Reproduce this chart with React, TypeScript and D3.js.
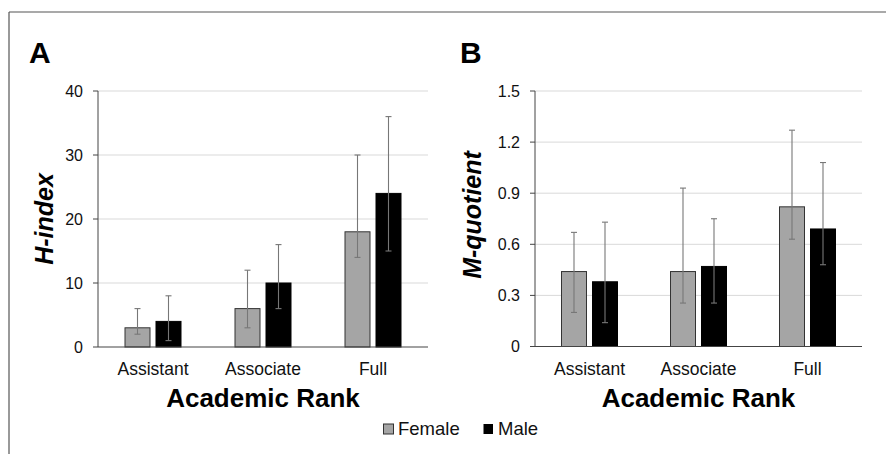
import React from "react";
import * as d3 from "d3";

const categories = ["Assistant", "Associate", "Full"];
const seriesNames = ["Female", "Male"];

// Panel A: H-index
const hFemale = [3, 6, 18];
const hMale = [4, 10, 24];
const hFemaleLow = [2, 3, 14];
const hFemaleHigh = [6, 12, 30];
const hMaleLow = [1, 6, 15];
const hMaleHigh = [8, 16, 36];
const hTicks = [0, 10, 20, 30, 40];

// Panel B: M-quotient
const mFemale = [0.44, 0.44, 0.82];
const mMale = [0.38, 0.47, 0.69];
const mFemaleLow = [0.2, 0.255, 0.63];
const mFemaleHigh = [0.67, 0.93, 1.27];
const mMaleLow = [0.14, 0.255, 0.48];
const mMaleHigh = [0.73, 0.75, 1.08];
const mTicks = [0, 0.3, 0.6, 0.9, 1.2, 1.5];

const FONT = "'Liberation Sans', Arial, Helvetica, sans-serif";
const FEMALE_FILL = "#a5a5a5";
const MALE_FILL = "#000000";

type PanelProps = {
  letter: string;
  letterX: number;
  x0: number;
  x1: number;
  y0: number;
  y1: number;
  domainMax: number;
  ticks: number[];
  fmt: (v: number) => string;
  yTitle: string;
  yTitleX: number;
  yTitleY: number;
  values: number[][];
  lows: number[][];
  highs: number[][];
};

function Panel(p: PanelProps) {
  const x = d3.scaleBand<string>().domain(categories).range([p.x0, p.x1]).padding(0);
  const inner = d3
    .scaleBand<string>()
    .domain(seriesNames)
    .range([-28, 28])
    .paddingInner(6 / 31)
    .paddingOuter(0);
  const y = d3.scaleLinear().domain([0, p.domainMax]).range([p.y0, p.y1]);
  const fills = [FEMALE_FILL, MALE_FILL];
  const strokes = ["#333333", "#000000"];
  const bw = inner.bandwidth();
  return (
    <g>
      <text x={p.letterX} y={63} fontFamily={FONT} fontWeight="bold" fontSize={30} fill="#000">
        {p.letter}
      </text>
      {p.ticks.map((t) => (
        <g key={t}>
          {t > 0 && (
            <line x1={p.x0} x2={p.x1} y1={y(t)} y2={y(t)} stroke="#d9d9d9" strokeWidth={1} />
          )}
          <line x1={p.x0 - 5} x2={p.x0} y1={y(t)} y2={y(t)} stroke="#444" strokeWidth={1} />
          <text
            x={p.x0 - 15}
            y={y(t)}
            dy="0.36em"
            textAnchor="end"
            fontFamily={FONT}
            fontSize={16}
            fill="#111"
          >
            {p.fmt(t)}
          </text>
        </g>
      ))}
      {categories.map((c, i) => {
        const cx = (x(c) as number) + x.bandwidth() / 2;
        return (
          <g key={c}>
            {seriesNames.map((s, j) => {
              const bx = cx + (inner(s) as number);
              const v = p.values[j][i];
              return (
                <rect
                  key={s}
                  x={bx}
                  y={y(v)}
                  width={bw}
                  height={y(0) - y(v)}
                  fill={fills[j]}
                  stroke={strokes[j]}
                  strokeWidth={1}
                />
              );
            })}
            {seriesNames.map((s, j) => {
              const ex = cx + (inner(s) as number) + bw / 2;
              const lo = y(p.lows[j][i]);
              const hi = y(p.highs[j][i]);
              return (
                <g key={s + "e"} stroke="#777" strokeWidth={1.1}>
                  <line x1={ex} x2={ex} y1={lo} y2={hi} />
                  <line x1={ex - 3} x2={ex + 3} y1={lo} y2={lo} />
                  <line x1={ex - 3} x2={ex + 3} y1={hi} y2={hi} />
                </g>
              );
            })}
            <text
              x={cx}
              y={375}
              textAnchor="middle"
              fontFamily={FONT}
              fontSize={17.5}
              fill="#111"
            >
              {c}
            </text>
          </g>
        );
      })}
      <line x1={p.x0} x2={p.x0} y1={p.y1} y2={p.y0} stroke="#444" strokeWidth={1} />
      <line x1={p.x0} x2={p.x1} y1={p.y0} y2={p.y0} stroke="#444" strokeWidth={1.2} />
      <text
        x={(p.x0 + p.x1) / 2}
        y={407}
        textAnchor="middle"
        fontFamily={FONT}
        fontWeight="bold"
        fontSize={26}
        fill="#000"
      >
        Academic Rank
      </text>
      <text
        transform={`translate(${p.yTitleX},${p.yTitleY}) rotate(-90)`}
        textAnchor="middle"
        fontFamily={FONT}
        fontWeight="bold"
        fontStyle="italic"
        fontSize={25}
        fill="#000"
      >
        {p.yTitle}
      </text>
    </g>
  );
}

export default function App() {
  return (
    <svg
      width={886}
      height={454}
      viewBox="0 0 886 454"
      style={{ position: "absolute", left: 0, top: 0, background: "#fff" }}
    >
      <rect x={0} y={0} width={886} height={454} fill="#fff" />
      <line x1={9} x2={886} y1={12} y2={12} stroke="#555" strokeWidth={1.2} />
      <line x1={9} x2={9} y1={12} y2={454} stroke="#555" strokeWidth={1.2} />
      <Panel
        letter="A"
        letterX={29}
        x0={98}
        x1={428}
        y0={347}
        y1={91}
        domainMax={40}
        ticks={hTicks}
        fmt={(v) => String(v)}
        yTitle="H-index"
        yTitleX={53}
        yTitleY={219}
        values={[hFemale, hMale]}
        lows={[hFemaleLow, hMaleLow]}
        highs={[hFemaleHigh, hMaleHigh]}
      />
      <Panel
        letter="B"
        letterX={460}
        x0={535}
        x1={862}
        y0={346.5}
        y1={91}
        domainMax={1.5}
        ticks={mTicks}
        fmt={(v) => (v === 0 ? "0" : d3.format(".1f")(v))}
        yTitle="M-quotient"
        yTitleX={481}
        yTitleY={215}
        values={[mFemale, mMale]}
        lows={[mFemaleLow, mMaleLow]}
        highs={[mFemaleHigh, mMaleHigh]}
      />
      <g fontFamily={FONT} fontSize={18.5} fill="#111">
        <rect x={383.5} y={424} width={10} height={10} fill={FEMALE_FILL} stroke="#333" strokeWidth={1} />
        <text x={398} y={435}>
          Female
        </text>
        <rect x={483.5} y={424} width={9.5} height={10} fill={MALE_FILL} />
        <text x={498} y={435}>
          Male
        </text>
      </g>
    </svg>
  );
}
